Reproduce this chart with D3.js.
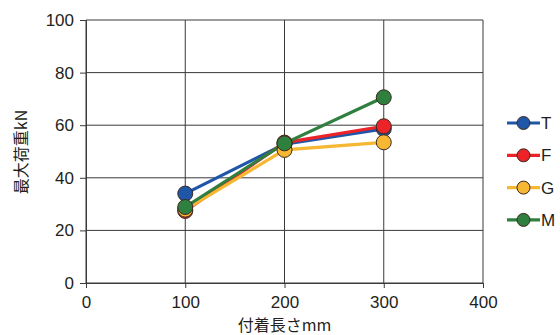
<!DOCTYPE html>
<html>
<head>
<meta charset="utf-8">
<script src="https://cdn.jsdelivr.net/npm/d3@7"></script>
<style>
  html, body { margin: 0; padding: 0; background: #fff; }
  svg { display: block; }
  text { font-family: "Liberation Sans", Arial, sans-serif; fill: #231f20; }
</style>
</head>
<body>
<svg id="chart" width="560" height="335"></svg>
<script>
// Bond length (mm) and maximum load (kN) for each specimen type
const lengths = [100, 200, 300];
const seriesNames = ["T", "F", "G", "M"];
const valuesT = [34.0, 52.8, 58.6];
const valuesF = [27.4, 53.4, 59.6];
const valuesG = [27.9, 50.6, 53.5];
const valuesM = [28.9, 53.1, 70.6];
const seriesColors = ["#1f56a8", "#ec2329", "#f6b733", "#2f7f3f"];
const xTicks = [0, 100, 200, 300, 400];
const yTicks = [0, 20, 40, 60, 80, 100];
const xTitle = "付着長さmm";
const yTitle = "最大荷重kN";

const series = seriesNames.map((name, i) => ({
  name,
  color: seriesColors[i],
  values: [valuesT, valuesF, valuesG, valuesM][i]
}));

const svg = d3.select("#chart");
const plotLeft = 86, plotRight = 483, plotTop = 20, plotBottom = 283;

const x = d3.scaleLinear().domain([0, 400]).range([plotLeft, plotRight]);
const y = d3.scaleLinear().domain([0, 100]).range([plotBottom, plotTop]);

const gridColor = "#3a3a3a";

// Grid lines
svg.append("g").selectAll("line").data(yTicks).join("line")
  .attr("x1", plotLeft).attr("x2", plotRight)
  .attr("y1", d => y(d)).attr("y2", d => y(d))
  .attr("stroke", gridColor).attr("stroke-width", 1);
svg.append("g").selectAll("line").data(xTicks).join("line")
  .attr("x1", d => x(d)).attr("x2", d => x(d))
  .attr("y1", plotTop).attr("y2", plotBottom)
  .attr("stroke", gridColor).attr("stroke-width", 1);

// Axes
const yAxis = svg.append("g")
  .attr("transform", `translate(${plotLeft},0)`)
  .call(d3.axisLeft(y).tickValues(yTicks).tickSize(6).tickPadding(6));
const xAxis = svg.append("g")
  .attr("transform", `translate(0,${plotBottom})`)
  .call(d3.axisBottom(x).tickValues(xTicks).tickSize(5).tickPadding(8));
[yAxis, xAxis].forEach(a => {
  a.select(".domain").attr("stroke", gridColor);
  a.selectAll(".tick line").attr("stroke", gridColor);
  a.selectAll(".tick text")
    .style("font-family", "'Liberation Sans', Arial, sans-serif")
    .style("font-size", "17px").attr("fill", "#231f20");
});

// Axis titles
svg.append("text")
  .attr("x", (plotLeft + plotRight) / 2).attr("y", 331)
  .attr("text-anchor", "middle")
  .style("font-family", "'Noto Sans CJK JP', sans-serif")
  .style("font-size", "16px")
  .text(xTitle);
svg.append("text")
  .attr("transform", `translate(27,152) rotate(-90)`)
  .attr("text-anchor", "middle")
  .style("font-family", "'Noto Sans CJK JP', sans-serif")
  .style("font-size", "16px")
  .text(yTitle);

// Lines and markers
const line = d3.line().x((d, i) => x(lengths[i])).y(d => y(d));
series.forEach(s => {
  svg.append("path")
    .attr("d", line(s.values))
    .attr("fill", "none").attr("stroke", s.color).attr("stroke-width", 3.2);
});
series.forEach(s => {
  svg.append("g").selectAll("circle").data(s.values).join("circle")
    .attr("cx", (d, i) => x(lengths[i])).attr("cy", d => y(d))
    .attr("r", 7.5)
    .attr("fill", s.color).attr("stroke", "#3b2a20").attr("stroke-width", 1);
});

// Legend
const legend = svg.append("g");
series.forEach((s, i) => {
  const ly = 123 + i * 32.3;
  legend.append("line")
    .attr("x1", 507).attr("x2", 540).attr("y1", ly).attr("y2", ly)
    .attr("stroke", s.color).attr("stroke-width", 3.2);
  legend.append("circle")
    .attr("cx", 523.5).attr("cy", ly).attr("r", 6.5)
    .attr("fill", s.color).attr("stroke", "#3b2a20").attr("stroke-width", 1);
  legend.append("text")
    .attr("x", 541).attr("y", ly + 6)
    .style("font-size", "17px")
    .text(s.name);
});
</script>
</body>
</html>
